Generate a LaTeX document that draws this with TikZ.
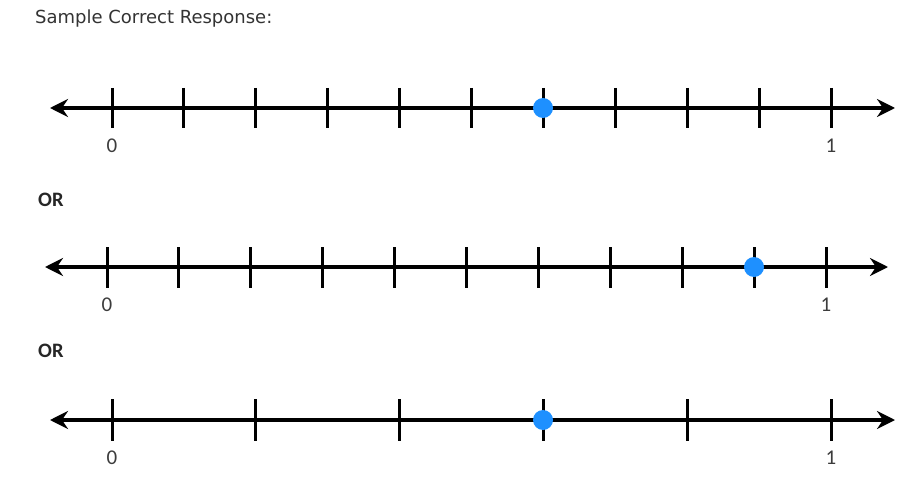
\documentclass[tikz,border=0pt]{standalone}
\usepackage{fontspec}
\setmainfont{DejaVu Sans}
\newfontfamily\calfont{Carlito}
\usetikzlibrary{arrows.meta}
\definecolor{dotblue}{RGB}{30,144,255}
\definecolor{inkgray}{RGB}{60,60,60}
\tikzset{
  numline/.style={line width=3.6pt, {Stealth[length=18pt,width=18pt,inset=6pt]}-{Stealth[length=18pt,width=18pt,inset=6pt]}},
  tick/.style={line width=3pt},
  lab/.style={font=\calfont\fontsize{21}{21}\selectfont, text=inkgray, inner sep=0pt},
  orlab/.style={font=\calfont\bfseries\fontsize{20.5}{20.5}\selectfont, text=black!85, inner sep=0pt, anchor=base west},
  mark dot/.style={circle, fill=dotblue, minimum size=20pt, inner sep=0pt}
}
\begin{document}
\begin{tikzpicture}[x=1pt, y=-1pt]
  \useasboundingbox (0,0) rectangle (923,481);
  \node[anchor=base west, inner sep=0pt, text=black!80, font=\fontsize{18}{18}\selectfont] (title) at (35,24) {Sample Correct Response:};
  % first line: tenths
  \coordinate (L1) at (50,108); \coordinate (R1) at (895,108);
  \draw[numline] (L1) -- (R1);
  \foreach \i in {0,...,10} \draw[tick] ({112+71.9*\i},88) -- ++(0,40);
  \node[mark dot] (dotA) at (543,108) {};
  \node[lab] (zeroA) at (112,146) {0};
  \node[lab] (oneA) at (831,146) {1};
  \node[orlab] (orA) at (38,207) {OR};
  % second line: tenths
  \coordinate (L2) at (45,267); \coordinate (R2) at (888,267);
  \draw[numline] (L2) -- (R2);
  \foreach \i in {0,...,10} \draw[tick] ({107+71.9*\i},247) -- ++(0,41);
  \node[mark dot] (dotB) at (754,267) {};
  \node[lab] (zeroB) at (107,305) {0};
  \node[lab] (oneB) at (826,305) {1};
  \node[orlab] (orB) at (38,357) {OR};
  % third line: fifths
  \coordinate (L3) at (50,420); \coordinate (R3) at (895,420);
  \draw[numline] (L3) -- (R3);
  \foreach \i in {0,...,5} \draw[tick] ({112+143.8*\i},399) -- ++(0,42);
  \node[mark dot] (dotC) at (543,420) {};
  \node[lab] (zeroC) at (112,458) {0};
  \node[lab] (oneC) at (831,458) {1};
\end{tikzpicture}
\end{document}
